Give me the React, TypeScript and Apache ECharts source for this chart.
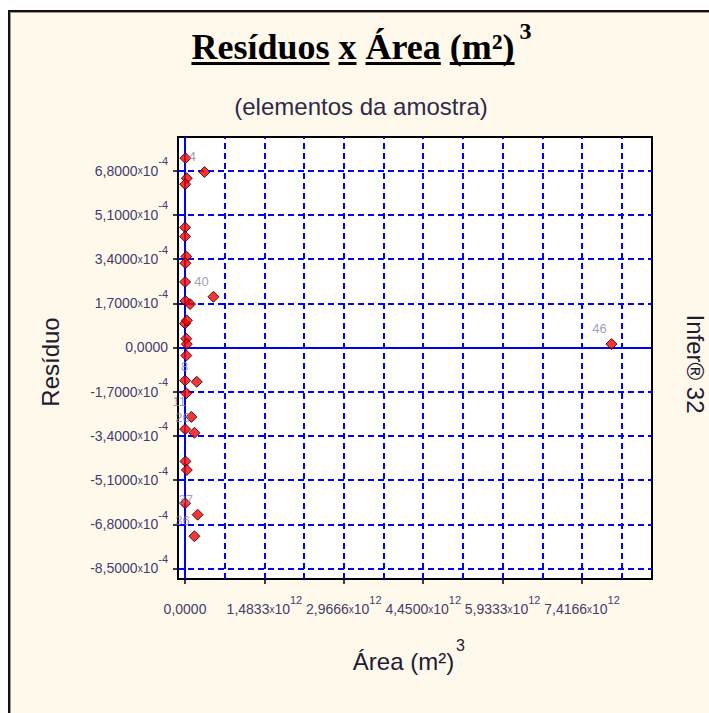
import React, { useEffect, useRef } from "react";
import * as echarts from "echarts";

// Área (m²)^3 of each sample element
const areaX = [
  0.008e12, 0.363e12, 0.034e12, 0.004e12, 0.002e12, 0.002e12, 0.024e12, 0.008e12,
  0.002e12, 0.531e12, 0.008e12, 0.094e12, 0.002e12, 0.034e12, 0.024e12, 0.034e12,
  0.024e12, 0.002e12, 0.219e12, 0.024e12, 0.118e12, 0.002e12, 0.176e12, 0.008e12,
  0.034e12, 0.002e12, 0.236e12, 0.176e12, 7.966e12,
];
// Resíduo of each sample element
const residuoY = [
  7.28e-4, 6.75e-4, 6.51e-4, 6.28e-4, 4.62e-4, 4.27e-4, 3.5e-4, 3.24e-4,
  2.52e-4, 1.95e-4, 1.79e-4, 1.67e-4, 0.92e-4, 1.04e-4, 0.34e-4, 0.13e-4,
  -0.31e-4, -1.27e-4, -1.32e-4, -1.76e-4, -2.67e-4, -3.14e-4, -3.28e-4, -4.38e-4,
  -4.71e-4, -5.99e-4, -6.43e-4, -7.26e-4, 0.13e-4,
];
const pointIds = [
  "", "4", "", "", "", "", "", "",
  "", "40", "", "", "", "", "", "",
  "", "", "8", "", "11", "", "26", "",
  "", "", "37", "36", "46",
];

const xTickValues = [0, 1.483333e12, 2.966667e12, 4.45e12, 5.933333e12, 7.416667e12];
const xTickLabels = ["0,0000", "1,4833", "2,9666", "4,4500", "5,9333", "7,4166"];
const xTickExp = "12";
const yTickValues = [-8.5e-4, -6.8e-4, -5.1e-4, -3.4e-4, -1.7e-4, 0, 1.7e-4, 3.4e-4, 5.1e-4, 6.8e-4];
const yTickLabels = ["-8,5000", "-6,8000", "-5,1000", "-3,4000", "-1,7000", "0,0000", "1,7000", "3,4000", "5,1000", "6,8000"];
const yTickExp = "-4";
const xGridValues = [
  0.741667e12, 1.483333e12, 2.225e12, 2.966667e12, 3.708333e12, 4.45e12,
  5.191667e12, 5.933333e12, 6.675e12, 7.416667e12, 8.158333e12,
];
const yGridValues = [-8.5e-4, -6.8e-4, -5.1e-4, -3.4e-4, -1.7e-4, 1.7e-4, 3.4e-4, 5.1e-4, 6.8e-4];

const titleWords = ["Resíduos", "x", "Área", "(m²)"];
const titleSup = "3";
const subtitle = "(elementos da amostra)";
const yName = "Resíduo";
const xName = "Área (m²)";
const xNameSup = "3";
const sideText = "Infer® 32";

const SANS = '"Liberation Sans", Arial, sans-serif';
const SERIF = '"Liberation Serif", "Times New Roman", serif';
const LABEL_COLOR = "#463c6e";
const GRID_BLUE = "#0000ff";

function findIndex(values: number[], v: number) {
  let best = 0;
  let bd = Infinity;
  values.forEach((t, i) => {
    const d = Math.abs(t - v);
    if (d < bd) {
      bd = d;
      best = i;
    }
  });
  return best;
}

const richStyles = {
  m: { fontSize: 14, fontFamily: SANS, color: LABEL_COLOR, lineHeight: 30 },
  x: { fontSize: 10, fontFamily: SANS, color: LABEL_COLOR, lineHeight: 30 },
  s: { fontSize: 11, fontFamily: SANS, color: LABEL_COLOR, lineHeight: 12, verticalAlign: "top" },
};

export default function App() {
  const ref = useRef<HTMLDivElement>(null);

  useEffect(() => {
    document.body.style.margin = "0";
    if (!ref.current) return;
    const chart = echarts.init(ref.current, undefined, { renderer: "svg" });

    const ctx = document.createElement("canvas").getContext("2d")!;
    const titleFont = `bold 36px ${SERIF}`;
    ctx.font = titleFont;
    const spaceW = ctx.measureText(" ").width;
    const widths = titleWords.map((w) => ctx.measureText(w).width);
    const total = widths.reduce((a, b) => a + b, 0) + spaceW * (titleWords.length - 1);
    let cx = 353 - total / 2;
    const titleEls: any[] = [];
    titleWords.forEach((w, i) => {
      titleEls.push({
        type: "text",
        x: cx,
        y: 47,
        style: { text: w, font: titleFont, fill: "#000", align: "left", textAlign: "left", verticalAlign: "middle", textVerticalAlign: "middle" },
      });
      titleEls.push({
        type: "rect",
        shape: { x: cx, y: 62, width: widths[i], height: 3 },
        style: { fill: "#000" },
      });
      cx += widths[i] + spaceW;
    });
    const titleEnd = cx - spaceW;
    titleEls.push({
      type: "text",
      x: titleEnd + 5,
      y: 31,
      style: { text: titleSup, font: `bold 24px ${SERIF}`, fill: "#000", align: "left", textAlign: "left", verticalAlign: "middle", textVerticalAlign: "middle" },
    });

    const dashed = () => ({ type: [6, 4], color: GRID_BLUE, width: 2 });
    const solid = () => ({ type: "solid", color: GRID_BLUE, width: 2 });

    const option: any = {
      animation: false,
      backgroundColor: "#fff9ec",
      grid: {
        left: 178,
        top: 137,
        right: 57,
        bottom: 134,
        show: true,
        backgroundColor: "#ffffff",
        borderColor: "#000",
        borderWidth: 2,
        containLabel: false,
      },
      xAxis: {
        type: "value",
        min: -0.1308e12,
        max: 8.724e12,
        axisLine: { show: true, onZero: false, lineStyle: { color: "#000", width: 2 } },
        axisTick: { show: true, customValues: xTickValues, length: 5, inside: false, lineStyle: { color: "#000", width: 1.5 } },
        splitLine: { show: false },
        axisLabel: {
          show: true,
          customValues: xTickValues,
          margin: 15,
          formatter: (v: number) => {
            const i = findIndex(xTickValues, v);
            const lab = xTickLabels[i];
            if (i === 0) return `{m|${lab}}`;
            return `{m|${lab}}{x|x}{m|10}{s|${xTickExp}}`;
          },
          rich: richStyles,
        },
      },
      yAxis: {
        type: "value",
        min: -8.904e-4,
        max: 8.096e-4,
        axisLine: { show: true, onZero: false, lineStyle: { color: "#000", width: 2 } },
        axisTick: { show: true, customValues: yTickValues, length: 5, inside: false, lineStyle: { color: "#000", width: 1.5 } },
        splitLine: { show: false },
        axisLabel: {
          show: true,
          customValues: yTickValues,
          margin: 10,
          formatter: (v: number) => {
            const i = findIndex(yTickValues, v);
            const lab = yTickLabels[i];
            if (lab === "0,0000") return `{m|${lab}}`;
            return `{m|${lab}}{x|x}{m|10}{s|${yTickExp}}`;
          },
          rich: richStyles,
        },
      },
      graphic: [
        { type: "rect", shape: { x: 0, y: 0, width: 709, height: 10 }, style: { fill: "#ffffff" } },
        { type: "rect", shape: { x: 0, y: 0, width: 8, height: 713 }, style: { fill: "#ffffff" } },
        { type: "rect", shape: { x: 8, y: 10, width: 701, height: 2 }, style: { fill: "#111" } },
        { type: "rect", shape: { x: 8, y: 10, width: 2, height: 703 }, style: { fill: "#111" } },
        { type: "rect", shape: { x: 10, y: 12, width: 699, height: 1 }, style: { fill: "#9a9a90" } },
        { type: "rect", shape: { x: 10, y: 12, width: 1, height: 701 }, style: { fill: "#9a9a90" } },
        ...titleEls,
        {
          type: "text",
          x: 361,
          y: 106,
          style: { text: subtitle, font: `24px ${SANS}`, fill: "#2d2a4a", align: "center", textAlign: "center", verticalAlign: "middle", textVerticalAlign: "middle" },
        },
        {
          type: "text",
          x: 50.5,
          y: 362,
          rotation: Math.PI / 2,
          style: { text: yName, font: `24px ${SANS}`, fill: "#1e1b33", align: "center", textAlign: "center", verticalAlign: "middle", textVerticalAlign: "middle" },
        },
        {
          type: "text",
          x: 403.5,
          y: 661,
          style: { text: xName, font: `24px ${SANS}`, fill: "#1e1b33", align: "center", textAlign: "center", verticalAlign: "middle", textVerticalAlign: "middle" },
        },
        {
          type: "text",
          x: 456,
          y: 645,
          style: { text: xNameSup, font: `16px ${SANS}`, fill: "#1e1b33", align: "left", textAlign: "left", verticalAlign: "middle", textVerticalAlign: "middle" },
        },
        {
          type: "text",
          x: 695.5,
          y: 364,
          rotation: -Math.PI / 2,
          style: { text: sideText, font: `24px ${SANS}`, fill: "#1e1b33", align: "center", textAlign: "center", verticalAlign: "middle", textVerticalAlign: "middle" },
        },
      ],
      series: [
        {
          type: "scatter",
          data: [[0, 0]],
          symbolSize: 0,
          silent: true,
          z: 1,
          markLine: {
            silent: true,
            precision: 12,
            symbol: ["none", "none"],
            label: { show: false },
            animation: false,
            data: [
              ...xGridValues.map((v) => ({ xAxis: v, lineStyle: dashed() })),
              ...yGridValues.map((v) => ({ yAxis: v, lineStyle: dashed() })),
              { xAxis: 0, lineStyle: solid() },
              { yAxis: 0, lineStyle: solid() },
            ],
          },
        },
        {
          type: "scatter",
          z: 10,
          symbol: "diamond",
          symbolSize: 11,
          itemStyle: { color: "#ff0000", borderColor: "#000", borderWidth: 1 },
          label: {
            show: true,
            position: "top",
            distance: 3,
            offset: [-12, 0],
            formatter: "{b}",
            fontFamily: SANS,
            fontSize: 13,
            color: "#8585a3",
          },
          data: areaX.map((x, i) => ({
            name: pointIds[i],
            value: [x, residuoY[i]],
            label: { show: pointIds[i] !== "" },
          })),
        },
      ],
    };

    chart.setOption(option);
    return () => chart.dispose();
  }, []);

  return <div ref={ref} style={{ width: 709, height: 713 }} />;
}
